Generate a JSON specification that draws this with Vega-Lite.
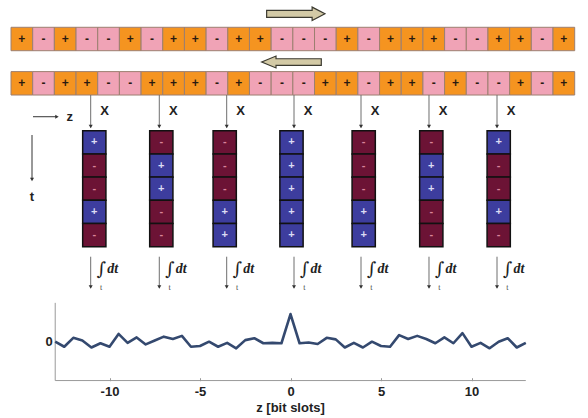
{
  "$schema": "https://vega.github.io/schema/vega-lite/v6.json",
  "width": 588,
  "height": 418,
  "autosize": {"type": "fit", "contains": "padding"},
  "padding": 0,
  "background": "white",
  "config": {"view": {"stroke": null}},
  "datasets": {
    "sequences": [
      {"row": 1, "s": 0, "sign": "+"}, {"row": 1, "s": 1, "sign": "-"}, {"row": 1, "s": 2, "sign": "+"}, {"row": 1, "s": 3, "sign": "-"},
      {"row": 1, "s": 4, "sign": "-"}, {"row": 1, "s": 5, "sign": "+"}, {"row": 1, "s": 6, "sign": "-"}, {"row": 1, "s": 7, "sign": "+"},
      {"row": 1, "s": 8, "sign": "+"}, {"row": 1, "s": 9, "sign": "-"}, {"row": 1, "s": 10, "sign": "+"}, {"row": 1, "s": 11, "sign": "+"},
      {"row": 1, "s": 12, "sign": "-"}, {"row": 1, "s": 13, "sign": "-"}, {"row": 1, "s": 14, "sign": "-"}, {"row": 1, "s": 15, "sign": "+"},
      {"row": 1, "s": 16, "sign": "-"}, {"row": 1, "s": 17, "sign": "+"}, {"row": 1, "s": 18, "sign": "+"}, {"row": 1, "s": 19, "sign": "+"},
      {"row": 1, "s": 20, "sign": "-"}, {"row": 1, "s": 21, "sign": "-"}, {"row": 1, "s": 22, "sign": "+"}, {"row": 1, "s": 23, "sign": "+"},
      {"row": 1, "s": 24, "sign": "-"}, {"row": 1, "s": 25, "sign": "+"},
      {"row": 2, "s": 0, "sign": "+"}, {"row": 2, "s": 1, "sign": "-"}, {"row": 2, "s": 2, "sign": "+"}, {"row": 2, "s": 3, "sign": "+"},
      {"row": 2, "s": 4, "sign": "-"}, {"row": 2, "s": 5, "sign": "-"}, {"row": 2, "s": 6, "sign": "+"}, {"row": 2, "s": 7, "sign": "+"},
      {"row": 2, "s": 8, "sign": "+"}, {"row": 2, "s": 9, "sign": "-"}, {"row": 2, "s": 10, "sign": "+"}, {"row": 2, "s": 11, "sign": "-"},
      {"row": 2, "s": 12, "sign": "-"}, {"row": 2, "s": 13, "sign": "-"}, {"row": 2, "s": 14, "sign": "+"}, {"row": 2, "s": 15, "sign": "+"},
      {"row": 2, "s": 16, "sign": "-"}, {"row": 2, "s": 17, "sign": "+"}, {"row": 2, "s": 18, "sign": "+"}, {"row": 2, "s": 19, "sign": "-"},
      {"row": 2, "s": 20, "sign": "+"}, {"row": 2, "s": 21, "sign": "-"}, {"row": 2, "s": 22, "sign": "-"}, {"row": 2, "s": 23, "sign": "+"},
      {"row": 2, "s": 24, "sign": "-"}, {"row": 2, "s": 25, "sign": "+"}
    ],
    "taps": [
      {"tap": 1, "s": 3.176}, {"tap": 2, "s": 6.34}, {"tap": 3, "s": 9.449}, {"tap": 4, "s": 12.554},
      {"tap": 5, "s": 15.644}, {"tap": 6, "s": 18.78}, {"tap": 7, "s": 21.917}
    ],
    "products": [
      {"tap": 1, "s": 3.342, "t": 0, "sign": "+"}, {"tap": 1, "s": 3.342, "t": 1, "sign": "-"}, {"tap": 1, "s": 3.342, "t": 2, "sign": "-"}, {"tap": 1, "s": 3.342, "t": 3, "sign": "+"}, {"tap": 1, "s": 3.342, "t": 4, "sign": "-"},
      {"tap": 2, "s": 6.433, "t": 0, "sign": "-"}, {"tap": 2, "s": 6.433, "t": 1, "sign": "+"}, {"tap": 2, "s": 6.433, "t": 2, "sign": "+"}, {"tap": 2, "s": 6.433, "t": 3, "sign": "-"}, {"tap": 2, "s": 6.433, "t": 4, "sign": "-"},
      {"tap": 3, "s": 9.357, "t": 0, "sign": "-"}, {"tap": 3, "s": 9.357, "t": 1, "sign": "-"}, {"tap": 3, "s": 9.357, "t": 2, "sign": "-"}, {"tap": 3, "s": 9.357, "t": 3, "sign": "+"}, {"tap": 3, "s": 9.357, "t": 4, "sign": "+"},
      {"tap": 4, "s": 12.438, "t": 0, "sign": "+"}, {"tap": 4, "s": 12.438, "t": 1, "sign": "+"}, {"tap": 4, "s": 12.438, "t": 2, "sign": "+"}, {"tap": 4, "s": 12.438, "t": 3, "sign": "+"}, {"tap": 4, "s": 12.438, "t": 4, "sign": "+"},
      {"tap": 5, "s": 15.768, "t": 0, "sign": "-"}, {"tap": 5, "s": 15.768, "t": 1, "sign": "-"}, {"tap": 5, "s": 15.768, "t": 2, "sign": "-"}, {"tap": 5, "s": 15.768, "t": 3, "sign": "+"}, {"tap": 5, "s": 15.768, "t": 4, "sign": "+"},
      {"tap": 6, "s": 18.886, "t": 0, "sign": "-"}, {"tap": 6, "s": 18.886, "t": 1, "sign": "+"}, {"tap": 6, "s": 18.886, "t": 2, "sign": "+"}, {"tap": 6, "s": 18.886, "t": 3, "sign": "-"}, {"tap": 6, "s": 18.886, "t": 4, "sign": "-"},
      {"tap": 7, "s": 21.995, "t": 0, "sign": "+"}, {"tap": 7, "s": 21.995, "t": 1, "sign": "-"}, {"tap": 7, "s": 21.995, "t": 2, "sign": "-"}, {"tap": 7, "s": 21.995, "t": 3, "sign": "+"}, {"tap": 7, "s": 21.995, "t": 4, "sign": "-"}
    ],
    "correlation": [
      {"z": -13, "v": 0}, {"z": -12.5, "v": -0.13}, {"z": -12, "v": 0.1}, {"z": -11.5, "v": 0.03}, {"z": -11, "v": -0.15},
      {"z": -10.5, "v": -0.04}, {"z": -10, "v": -0.13}, {"z": -9.5, "v": 0.2}, {"z": -9, "v": -0.03}, {"z": -8.5, "v": 0.11},
      {"z": -8, "v": -0.07}, {"z": -7.5, "v": 0.03}, {"z": -7, "v": 0.13}, {"z": -6.5, "v": 0.07}, {"z": -6, "v": 0.15},
      {"z": -5.5, "v": -0.13}, {"z": -5, "v": -0.11}, {"z": -4.5, "v": 0}, {"z": -4, "v": -0.13}, {"z": -3.5, "v": -0.03},
      {"z": -3, "v": -0.17}, {"z": -2.5, "v": 0.04}, {"z": -2, "v": 0.09}, {"z": -1.5, "v": -0.04}, {"z": -1, "v": -0.03},
      {"z": -0.5, "v": -0.04}, {"z": 0, "v": 0.71}, {"z": 0.5, "v": -0.04}, {"z": 1, "v": -0.02}, {"z": 1.5, "v": -0.06},
      {"z": 2, "v": 0.1}, {"z": 2.5, "v": 0.06}, {"z": 3, "v": -0.15}, {"z": 3.5, "v": -0.03}, {"z": 4, "v": -0.15},
      {"z": 4.5, "v": 0}, {"z": 5, "v": -0.11}, {"z": 5.5, "v": -0.13}, {"z": 6, "v": 0.17}, {"z": 6.5, "v": 0.07},
      {"z": 7, "v": 0.15}, {"z": 7.5, "v": 0.07}, {"z": 8, "v": -0.04}, {"z": 8.5, "v": 0.11}, {"z": 9, "v": -0.04},
      {"z": 9.5, "v": 0.22}, {"z": 10, "v": -0.13}, {"z": 10.5, "v": -0.03}, {"z": 11, "v": -0.17}, {"z": 11.5, "v": 0},
      {"z": 12, "v": 0.09}, {"z": 12.5, "v": -0.15}, {"z": 13, "v": -0.03}
    ]
  },
  "layer": [
    {
      "encoding": {
        "x": {"type": "quantitative", "scale": {"domain": [-1.0074, 26.114], "nice": false, "zero": false}, "axis": null},
        "y": {"type": "quantitative", "scale": {"domain": [-6.134, 11.883], "nice": false, "zero": false, "reverse": true}, "axis": null}
      },
      "layer": [
        {
          "data": {"values": [{"dir": "forward", "s": 12.636, "t": -5.539}]},
          "mark": {"type": "point", "filled": true, "opacity": 1, "size": 3400, "fill": "#d3caa6", "stroke": "#3b3a30", "strokeWidth": 1.2,
                   "shape": "M-1,-0.12L0.56,-0.12L0.56,-0.23L1,0L0.56,0.23L0.56,0.12L-1,0.12Z"},
          "encoding": {"x": {"field": "s", "type": "quantitative"}, "y": {"field": "t", "type": "quantitative"}}
        },
        {
          "data": {"values": [{"dir": "backward", "s": 12.438, "t": -3.461}]},
          "mark": {"type": "point", "filled": true, "opacity": 1, "size": 3550, "fill": "#d3caa6", "stroke": "#3b3a30", "strokeWidth": 1.2,
                   "shape": "M1,-0.11L-0.52,-0.11L-0.52,-0.2L-1,0L-0.52,0.2L-0.52,0.11L1,0.11Z"},
          "encoding": {"x": {"field": "s", "type": "quantitative"}, "y": {"field": "t", "type": "quantitative"}}
        },
        {
          "data": {"name": "sequences"},
          "transform": [{"filter": "datum.row === 1"}],
          "mark": {"type": "point", "filled": true, "opacity": 1, "size": 470, "stroke": "#9c7f70", "strokeWidth": 1,
                   "shape": "M-1,-1.08L1,-1.08L1,1.08L-1,1.08Z"},
          "encoding": {
            "x": {"field": "s", "type": "quantitative"},
            "y": {"datum": -4.453},
            "fill": {"condition": {"test": "datum.sign === '+'", "value": "#f59420"}, "value": "#f0a3b6"}
          }
        },
        {
          "data": {"name": "sequences"},
          "transform": [{"filter": "datum.row === 2"}],
          "mark": {"type": "point", "filled": true, "opacity": 1, "size": 470, "stroke": "#9c7f70", "strokeWidth": 1,
                   "shape": "M-1,-1.08L1,-1.08L1,1.08L-1,1.08Z"},
          "encoding": {
            "x": {"field": "s", "type": "quantitative"},
            "y": {"datum": -2.543},
            "fill": {"condition": {"test": "datum.sign === '+'", "value": "#f59420"}, "value": "#f0a3b6"}
          }
        },
        {
          "data": {"name": "sequences"},
          "transform": [{"filter": "datum.row === 1"}],
          "mark": {"type": "text", "font": "Liberation Sans", "fontSize": 12, "fontWeight": "bold", "color": "#2a1a10", "baseline": "middle"},
          "encoding": {"x": {"field": "s", "type": "quantitative"}, "y": {"datum": -4.453}, "text": {"field": "sign"}}
        },
        {
          "data": {"name": "sequences"},
          "transform": [{"filter": "datum.row === 2"}],
          "mark": {"type": "text", "font": "Liberation Sans", "fontSize": 12, "fontWeight": "bold", "color": "#2a1a10", "baseline": "middle"},
          "encoding": {"x": {"field": "s", "type": "quantitative"}, "y": {"datum": -2.543}, "text": {"field": "sign"}}
        },
        {
          "data": {"name": "taps"},
          "mark": {"type": "rule", "color": "#6e6e6e", "strokeWidth": 1},
          "encoding": {"x": {"field": "s", "type": "quantitative"}, "y": {"datum": -2.039}, "y2": {"datum": -0.64}}
        },
        {
          "data": {"name": "taps"},
          "mark": {"type": "point", "shape": "triangle-down", "filled": true, "opacity": 1, "size": 16, "color": "#333333"},
          "encoding": {"x": {"field": "s", "type": "quantitative"}, "y": {"datum": -0.68}}
        },
        {
          "data": {"name": "taps"},
          "mark": {"type": "text", "text": "X", "dx": 14, "font": "Liberation Sans", "fontSize": 13, "fontWeight": "bold", "color": "#222222", "baseline": "middle"},
          "encoding": {"x": {"field": "s", "type": "quantitative"}, "y": {"datum": -1.336}}
        },
        {
          "data": {"name": "products"},
          "mark": {"type": "point", "shape": "square", "filled": true, "opacity": 1, "size": 540, "stroke": "#111111", "strokeWidth": 1.5},
          "encoding": {
            "x": {"field": "s", "type": "quantitative"},
            "y": {"field": "t", "type": "quantitative"},
            "fill": {"condition": {"test": "datum.sign === '+'", "value": "#3d3d9e"}, "value": "#6c1335"}
          }
        },
        {
          "data": {"name": "products"},
          "mark": {"type": "text", "font": "Liberation Sans", "fontSize": 11, "fontWeight": "bold", "baseline": "middle"},
          "encoding": {
            "x": {"field": "s", "type": "quantitative"},
            "y": {"field": "t", "type": "quantitative"},
            "text": {"field": "sign"},
            "color": {"condition": {"test": "datum.sign === '+'", "value": "#dcdcf4"}, "value": "#d9849a"}
          }
        },
        {
          "data": {"name": "taps"},
          "mark": {"type": "rule", "color": "#6e6e6e", "strokeWidth": 1},
          "encoding": {"x": {"field": "s", "type": "quantitative"}, "y": {"datum": 4.931}, "y2": {"datum": 6.26}}
        },
        {
          "data": {"name": "taps"},
          "mark": {"type": "point", "shape": "triangle-down", "filled": true, "opacity": 1, "size": 16, "color": "#333333"},
          "encoding": {"x": {"field": "s", "type": "quantitative"}, "y": {"datum": 6.24}}
        },
        {
          "data": {"name": "taps"},
          "mark": {"type": "text", "text": "∫", "dx": 10.5, "font": "DejaVu Serif", "fontSize": 18, "color": "#222222", "baseline": "middle"},
          "encoding": {"x": {"field": "s", "type": "quantitative"}, "y": {"datum": 5.52}}
        },
        {
          "data": {"name": "taps"},
          "mark": {"type": "text", "text": "dt", "dx": 22, "font": "Liberation Serif", "fontSize": 14, "fontStyle": "italic", "fontWeight": "bold", "color": "#222222", "baseline": "middle"},
          "encoding": {"x": {"field": "s", "type": "quantitative"}, "y": {"datum": 5.46}}
        },
        {
          "data": {"name": "taps"},
          "mark": {"type": "text", "text": "t", "dx": 10.3, "font": "Liberation Serif", "fontSize": 8, "color": "#444444", "baseline": "middle"},
          "encoding": {"x": {"field": "s", "type": "quantitative"}, "y": {"datum": 6.26}}
        },
        {
          "data": {"values": [{"label": "z"}]},
          "mark": {"type": "rule", "color": "#333333", "strokeWidth": 1},
          "encoding": {"x": {"datum": 0.515}, "x2": {"datum": 1.6}, "y": {"datum": -1.103}}
        },
        {
          "data": {"values": [{"label": "z"}]},
          "mark": {"type": "point", "shape": "triangle-right", "filled": true, "opacity": 1, "size": 16, "color": "#333333"},
          "encoding": {"x": {"datum": 1.62}, "y": {"datum": -1.103}}
        },
        {
          "data": {"values": [{"label": "z"}]},
          "mark": {"type": "text", "font": "Liberation Sans", "fontSize": 13, "fontWeight": "bold", "color": "#222222", "baseline": "middle"},
          "encoding": {"x": {"datum": 2.207}, "y": {"datum": -1.09}, "text": {"field": "label"}}
        },
        {
          "data": {"values": [{"label": "t"}]},
          "mark": {"type": "rule", "color": "#333333", "strokeWidth": 1},
          "encoding": {"x": {"datum": 0.469}, "y": {"datum": -0.315}, "y2": {"datum": 1.58}}
        },
        {
          "data": {"values": [{"label": "t"}]},
          "mark": {"type": "point", "shape": "triangle-down", "filled": true, "opacity": 1, "size": 16, "color": "#333333"},
          "encoding": {"x": {"datum": 0.469}, "y": {"datum": 1.6}}
        },
        {
          "data": {"values": [{"label": "t"}]},
          "mark": {"type": "text", "font": "Liberation Sans", "fontSize": 13, "fontWeight": "bold", "color": "#222222", "baseline": "middle"},
          "encoding": {"x": {"datum": 0.469}, "y": {"datum": 2.345}, "text": {"field": "label"}}
        }
      ]
    },
    {
      "encoding": {
        "x": {
          "type": "quantitative",
          "scale": {"domain": [-16.05, 16.436], "nice": false, "zero": false},
          "axis": {
            "orient": "bottom", "offset": -37.3, "values": [-10, -5, 0, 5, 10], "domain": false, "grid": false,
            "tickSize": -3, "tickColor": "#999999", "tickWidth": 1,
            "labelExpr": "'' + datum.value", "labelFont": "Liberation Sans", "labelFontSize": 13, "labelFontWeight": "bold",
            "labelColor": "#222222", "labelPadding": 8,
            "title": "z [bit slots]", "titleFont": "Liberation Sans", "titleFontSize": 13, "titleFontWeight": "bold",
            "titleColor": "#222222", "titlePadding": 3, "titleX": 290
          }
        },
        "y": {
          "type": "quantitative",
          "scale": {"domain": [-1.964, 8.795], "nice": false, "zero": false},
          "axis": {
            "orient": "left", "offset": -55.2, "values": [0], "domain": false, "ticks": false, "grid": false,
            "labelFont": "Liberation Sans", "labelFontSize": 13, "labelFontWeight": "bold", "labelColor": "#222222",
            "labelPadding": 3, "title": null
          }
        }
      },
      "layer": [
        {
          "data": {"values": [{"edge": "bottom"}]},
          "mark": {"type": "rule", "color": "#9a9a9a", "strokeWidth": 1},
          "encoding": {"x": {"datum": -13}, "x2": {"datum": 13}, "y": {"datum": -1}}
        },
        {
          "data": {"values": [{"edge": "left"}]},
          "mark": {"type": "rule", "color": "#9a9a9a", "strokeWidth": 1},
          "encoding": {"x": {"datum": -13}, "y": {"datum": -1}, "y2": {"datum": 1}}
        },
        {
          "data": {"name": "correlation"},
          "mark": {"type": "line", "color": "#34496f", "strokeWidth": 2.6, "strokeJoin": "round"},
          "encoding": {"x": {"field": "z", "type": "quantitative"}, "y": {"field": "v", "type": "quantitative"}}
        }
      ]
    }
  ],
  "resolve": {"scale": {"x": "independent", "y": "independent"}}
}
